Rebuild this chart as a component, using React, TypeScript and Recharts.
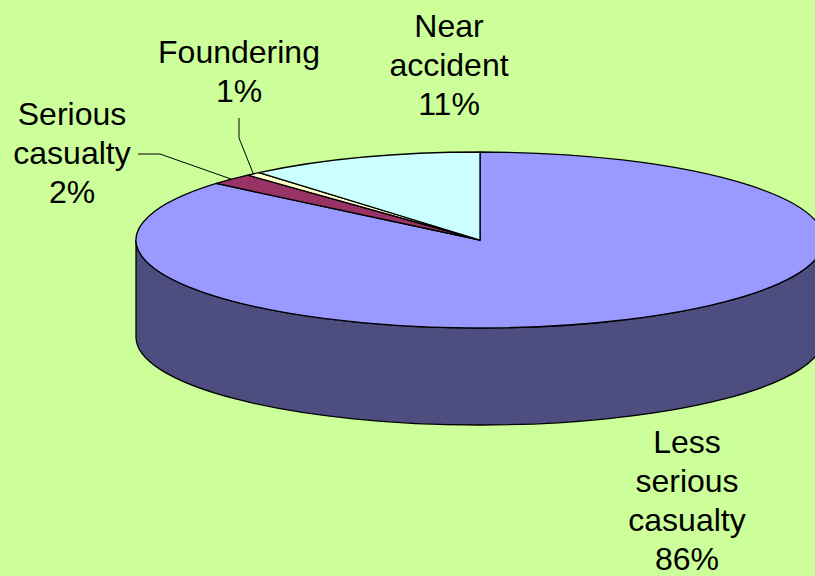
import { PieChart, Pie, Cell } from "recharts";

const categories = ["Less serious casualty", "Serious casualty", "Foundering", "Near accident"];
const shares = [86.1, 2.1, 0.7, 11.1];
const colors = ["#9999FF", "#993366", "#FFFFCC", "#CCFFFF"];

const data = categories.map((name, i) => ({ name, value: shares[i] }));

// 3-D look: ellipse squash and wall depth
const TILT = 88 / 344;
const DEPTH = 97;
const FONT = "'Liberation Sans', Arial, sans-serif";
const LINE_H = 39;

// where Excel put each label (centre x, first baseline) and the leader-line start if any
const labelSpots = [
  { x: 687, y: 453, lead: null as number[][] | null },
  { x: 72, y: 125, lead: [[138, 154], [160, 154]] },
  { x: 239, y: 63, lead: [[239, 118], [239, 138]] },
  { x: 449, y: 37, lead: null as number[][] | null },
];

const RAD = Math.PI / 180;

function shade(hex: string, k: number) {
  const n = parseInt(hex.slice(1), 16);
  const r = Math.round(((n >> 16) & 255) * k);
  const g = Math.round(((n >> 8) & 255) * k);
  const b = Math.round((n & 255) * k);
  return `rgb(${r},${g},${b})`;
}

function slice(props: any) {
  const { cx, cy, outerRadius, startAngle, endAngle, fill } = props;
  const rx = outerRadius;
  const ry = outerRadius * TILT;
  const pt = (a: number, dy = 0) => [cx + rx * Math.cos(a * RAD), cy - ry * Math.sin(a * RAD) + dy];
  const hi = Math.max(startAngle, endAngle);
  const lo = Math.min(startAngle, endAngle);

  // front wall: the part of the rim in the lower half of the ellipse
  const walls: string[] = [];
  for (const k of [-720, -360, 0, 360]) {
    const a = Math.min(hi, 0 + k);
    const b = Math.max(lo, -180 + k);
    if (a > b) {
      const p1 = pt(a);
      const p2 = pt(b);
      const q2 = pt(b, DEPTH);
      const q1 = pt(a, DEPTH);
      walls.push(
        `M${p1[0]},${p1[1]} A${rx},${ry} 0 0 1 ${p2[0]},${p2[1]} L${q2[0]},${q2[1]} A${rx},${ry} 0 0 0 ${q1[0]},${q1[1]} Z`
      );
    }
  }

  const s = pt(hi);
  const e = pt(lo);
  const large = hi - lo > 180 ? 1 : 0;
  const top = `M${cx},${cy} L${s[0]},${s[1]} A${rx},${ry} 0 ${large} 1 ${e[0]},${e[1]} Z`;

  return (
    <g>
      {walls.map((d, i) => (
        <path key={i} d={d} fill={shade(fill, 0.5)} stroke="#000" strokeWidth={1.3} />
      ))}
      <path d={top} fill={fill} stroke="#000" strokeWidth={1.3} strokeLinejoin="round" />
    </g>
  );
}

function label(props: any) {
  const { cx, cy, outerRadius, midAngle, percent, index, name } = props;
  const spot = labelSpots[index];
  const words = name === "Less serious casualty" ? ["Less", "serious", "casualty"] : name.split(" ");
  const lines = [...words, `${Math.round(percent * 100)}%`];
  const ex = cx + outerRadius * Math.cos(midAngle * RAD);
  const ey = cy - outerRadius * TILT * Math.sin(midAngle * RAD);
  return (
    <g>
      {spot.lead && (
        <polyline
          points={[...spot.lead, [ex, ey]].map(p => p.join(",")).join(" ")}
          fill="none"
          stroke="#000"
          strokeWidth={1}
        />
      )}
      <text textAnchor="middle" fontFamily={FONT} fontSize={32} fill="#000">
        {lines.map((t, i) => (
          <tspan key={i} x={spot.x} y={spot.y + i * LINE_H}>
            {t}
          </tspan>
        ))}
      </text>
    </g>
  );
}

export default function App() {
  return (
    <div style={{ position: "absolute", left: 0, top: 0, width: 815, height: 576, overflow: "hidden" }}>
      <PieChart width={815} height={576} style={{ background: "#CCFF99" }} margin={{ top: 0, right: 0, bottom: 0, left: 0 }}>
        <Pie
          data={data}
          dataKey="value"
          nameKey="name"
          cx={480}
          cy={240}
          outerRadius={344}
          startAngle={90}
          endAngle={-270}
          isAnimationActive={false}
          shape={slice}
          inactiveShape={slice}
          activeShape={slice}
          label={label}
          labelLine={false}
        >
          {data.map((d, i) => (
            <Cell key={d.name} fill={colors[i]} />
          ))}
        </Pie>
      </PieChart>
    </div>
  );
}
